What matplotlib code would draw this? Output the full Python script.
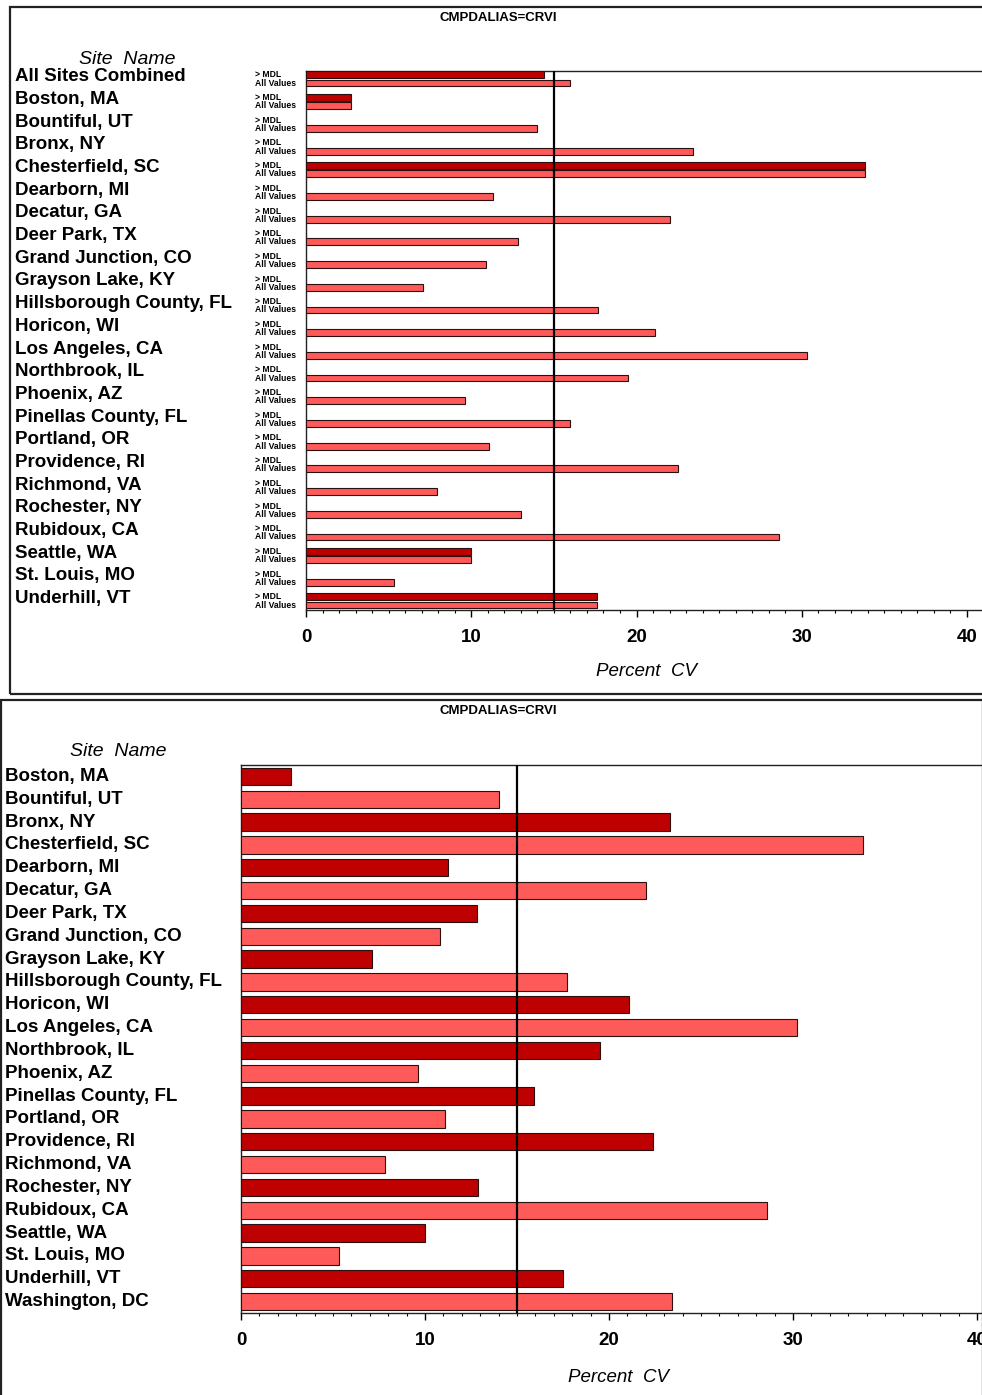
import matplotlib

matplotlib.use("Agg")
import matplotlib.pyplot as plt
import matplotlib.transforms as mtransforms
from matplotlib.patches import Rectangle
import numpy as np

plt.rcParams["font.family"] = ["Liberation Sans", "DejaVu Sans"]

DARK_RED = "#BF0000"
LIGHT_RED = "#FF5A5A"
EDGE = "#2a1010"

# ---- top panel data (site name, > MDL, All Values) ----
top_sites = [
    "All Sites Combined", "Boston, MA", "Bountiful, UT", "Bronx, NY",
    "Chesterfield, SC", "Dearborn, MI", "Decatur, GA", "Deer Park, TX",
    "Grand Junction, CO", "Grayson Lake, KY", "Hillsborough County, FL",
    "Horicon, WI", "Los Angeles, CA", "Northbrook, IL", "Phoenix, AZ",
    "Pinellas County, FL", "Portland, OR", "Providence, RI", "Richmond, VA",
    "Rochester, NY", "Rubidoux, CA", "Seattle, WA", "St. Louis, MO",
    "Underhill, VT",
]
top_mdl = [14.4, 2.7, np.nan, np.nan, 33.8, np.nan, np.nan, np.nan,
           np.nan, np.nan, np.nan, np.nan, np.nan, np.nan, np.nan,
           np.nan, np.nan, np.nan, np.nan, np.nan, np.nan, 10.0, np.nan,
           17.6]
top_all = [16.0, 2.7, 14.0, 23.4, 33.8, 11.3, 22.0, 12.8, 10.9, 7.1,
           17.7, 21.1, 30.3, 19.5, 9.6, 16.0, 11.1, 22.5, 7.9, 13.0,
           28.6, 10.0, 5.3, 17.6]

# ---- bottom panel data ----
bot_sites = [
    "Boston, MA", "Bountiful, UT", "Bronx, NY", "Chesterfield, SC",
    "Dearborn, MI", "Decatur, GA", "Deer Park, TX", "Grand Junction, CO",
    "Grayson Lake, KY", "Hillsborough County, FL", "Horicon, WI",
    "Los Angeles, CA", "Northbrook, IL", "Phoenix, AZ", "Pinellas County, FL",
    "Portland, OR", "Providence, RI", "Richmond, VA", "Rochester, NY",
    "Rubidoux, CA", "Seattle, WA", "St. Louis, MO", "Underhill, VT",
    "Washington, DC",
]
bot_vals = [2.7, 14.0, 23.3, 33.8, 11.25, 22.0, 12.8, 10.8, 7.1, 17.7,
            21.1, 30.2, 19.5, 9.6, 15.9, 11.1, 22.4, 7.8, 12.9, 28.6,
            10.0, 5.3, 17.5, 23.4]

REF_LINE = 15
TITLE = "CMPDALIAS=CRVI"

W, H = 982, 1395
fig = plt.figure(figsize=(W / 100, H / 100), dpi=100, facecolor="white")


def px_axes(left, top, right, bottom):
    return fig.add_axes([left / W, 1 - bottom / H, (right - left) / W, (bottom - top) / H])


def style_axis(ax, xmax):
    ax.set_xlim(0, xmax)
    ax.set_xticks([0, 10, 20, 30, 40])
    ax.set_xticks(np.arange(0, 41, 1), minor=True)
    ax.tick_params(axis="x", which="major", length=5, width=1, pad=9, labelsize=13.5)
    ax.tick_params(axis="x", which="minor", length=2.5, width=0.8)
    for lab in ax.get_xticklabels():
        lab.set_fontweight("bold")
    ax.set_yticks([])
    ax.spines["right"].set_visible(False)
    for s in ("left", "top", "bottom"):
        ax.spines[s].set_linewidth(1.0)
        ax.spines[s].set_color("#222222")
    ax.axvline(REF_LINE, color="black", lw=1.6, zorder=4)


# frames around the two panels
fig.patches.append(Rectangle((10 / W, 1 - 694 / H), 1.0, (694 - 7) / H,
                             transform=fig.transFigure, fill=False, lw=1.6, ec="#222222"))
fig.patches.append(Rectangle((1 / W, 1 - 1420 / H), 1.0, (1420 - 700) / H,
                             transform=fig.transFigure, fill=False, lw=1.6, ec="#222222"))

# ---------------- top panel ----------------
ax1 = px_axes(306, 71, 982, 610)
n1 = len(top_sites)
y1 = np.arange(n1)
off = 0.18
ax1.barh(y1 - off, top_mdl, height=0.3, color=DARK_RED, edgecolor=EDGE, lw=0.8, zorder=3)
ax1.barh(y1 + off, top_all, height=0.3, color=LIGHT_RED, edgecolor=EDGE, lw=0.8, zorder=3)
ax1.set_ylim(n1 - 0.6, -0.35)
style_axis(ax1, 676 / 16.525)

tr1 = mtransforms.blended_transform_factory(fig.transFigure, ax1.transData)
for i, name in enumerate(top_sites):
    ax1.text(15 / W, i - 0.1, name, transform=tr1, fontsize=13.5, fontweight="bold",
             ha="left", va="center")
    ax1.text(255 / W, i - off, "> MDL", transform=tr1, fontsize=6.2, fontweight="bold",
             ha="left", va="center")
    ax1.text(255 / W, i + off, "All Values", transform=tr1, fontsize=6.2, fontweight="bold",
             ha="left", va="center")

fig.text(127 / W, 1 - 60 / H, "Site  Name", fontsize=14, style="italic", ha="center", va="center")
fig.text(498 / W, 1 - 18 / H, TITLE, fontsize=9.5, fontweight="bold", ha="center", va="center")
fig.text(646 / W, 1 - 672 / H, "Percent  CV", fontsize=13.5, style="italic", ha="center", va="center")

# ---------------- bottom panel ----------------
ax2 = px_axes(241, 765, 982, 1313)
n2 = len(bot_sites)
y2 = np.arange(n2)
colors = [DARK_RED if i % 2 == 0 else LIGHT_RED for i in range(n2)]
ax2.barh(y2, bot_vals, height=0.76, color=colors, edgecolor=EDGE, lw=0.8, zorder=3)
ax2.set_ylim(n2 - 0.5, -0.5)
style_axis(ax2, 741 / 18.4)

tr2 = mtransforms.blended_transform_factory(fig.transFigure, ax2.transData)
for i, name in enumerate(bot_sites):
    ax2.text(5 / W, i, name, transform=tr2, fontsize=13.5, fontweight="bold",
             ha="left", va="center")

fig.text(118 / W, 1 - 752 / H, "Site  Name", fontsize=14, style="italic", ha="center", va="center")
fig.text(498 / W, 1 - 711 / H, TITLE, fontsize=9.5, fontweight="bold", ha="center", va="center")
fig.text(618 / W, 1 - 1377 / H, "Percent  CV", fontsize=13.5, style="italic", ha="center", va="center")

fig.savefig("out.png", dpi=100, facecolor="white")
